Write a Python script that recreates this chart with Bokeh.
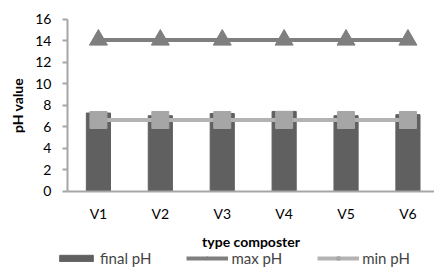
from bokeh.plotting import figure
from bokeh.models import Legend, LegendItem, Range1d, FixedTicker
from bokeh.embed import file_html
from bokeh.resources import INLINE

categories = ["V1", "V2", "V3", "V4", "V5", "V6"]
final_ph = [7.3, 7.05, 7.25, 7.45, 7.05, 7.15]
max_ph = [14.1, 14.1, 14.1, 14.1, 14.1, 14.1]
min_ph = [6.65, 6.65, 6.65, 6.65, 6.65, 6.65]
y_ticks = [0, 2, 4, 6, 8, 10, 12, 14, 16]

FONT = "Lato"

xpos = [i + 0.5 for i in range(len(categories))]

# frame covers the whole canvas; axes are pinned at x=0 / y=0
p = figure(width=434, height=268, x_range=Range1d(-1.082, 5.929),
           y_range=Range1d(-7.163, 17.767), output_backend="svg", toolbar_location=None,
           min_border=0)
p.outline_line_color = None
p.grid.visible = False

bars = p.vbar(x=xpos, top=final_ph, width=0.39, fill_color="#606060", line_color="#606060")
max_line = p.line(x=xpos, y=max_ph, line_color="#7f7f7f", line_width=4)
max_marks = p.scatter(x=xpos, y=max_ph, marker="triangle", size=18, fill_color="#7f7f7f", line_color="#7f7f7f")
min_line = p.line(x=xpos, y=min_ph, line_color="#b3b3b3", line_width=4)
min_marks = p.scatter(x=xpos, y=min_ph, marker="square", size=17, fill_color="#a6a6a6", line_color="#a6a6a6")

p.xaxis.fixed_location = 0
p.yaxis.fixed_location = 0
p.xaxis.bounds = (0, 5.929)
p.yaxis.bounds = (0, 16)
p.xaxis.ticker = FixedTicker(ticks=xpos)
p.xaxis.major_label_overrides = {x: c for x, c in zip(xpos, categories)}
p.yaxis.ticker = FixedTicker(ticks=y_ticks)
p.axis.minor_tick_line_color = None
p.yaxis.major_tick_out = 5
p.yaxis.major_tick_in = 0
p.yaxis.axis_label = "pH value"
p.xaxis.axis_label = "type composter"
for ax in (p.xaxis, p.yaxis):
    ax.axis_line_color = "#a6a6a6"
    ax.axis_line_width = 2
    ax.major_label_text_font = FONT
    ax.major_label_text_font_size = "14px"
    ax.major_label_text_color = "#000000"
    ax.axis_label_text_font = FONT
    ax.axis_label_text_font_size = "14px"
    ax.axis_label_text_font_style = "bold"
    ax.axis_label_text_color = "#000000"
p.yaxis.major_tick_line_color = "#a6a6a6"
p.yaxis.major_tick_line_width = 2
p.xaxis.major_tick_line_color = None
p.xaxis.major_tick_out = 0
p.xaxis.major_label_standoff = 14
p.xaxis.axis_label_standoff = 7
p.yaxis.major_label_standoff = 11
p.yaxis.axis_label_standoff = 6

legend = Legend(items=[
    LegendItem(label="final pH", renderers=[bars]),
    LegendItem(label="max pH", renderers=[max_line, max_marks]),
    LegendItem(label="min pH", renderers=[min_line, min_marks]),
], orientation="horizontal", location=(55, 1), glyph_width=42, glyph_height=8,
    label_standoff=3, spacing=35, padding=0, margin=0, border_line_color=None,
    background_fill_alpha=0,
    label_text_font=FONT, label_text_font_size="15px", label_height=15)
p.add_layout(legend, "center")

open("out.html", "w").write(file_html(p, INLINE))
